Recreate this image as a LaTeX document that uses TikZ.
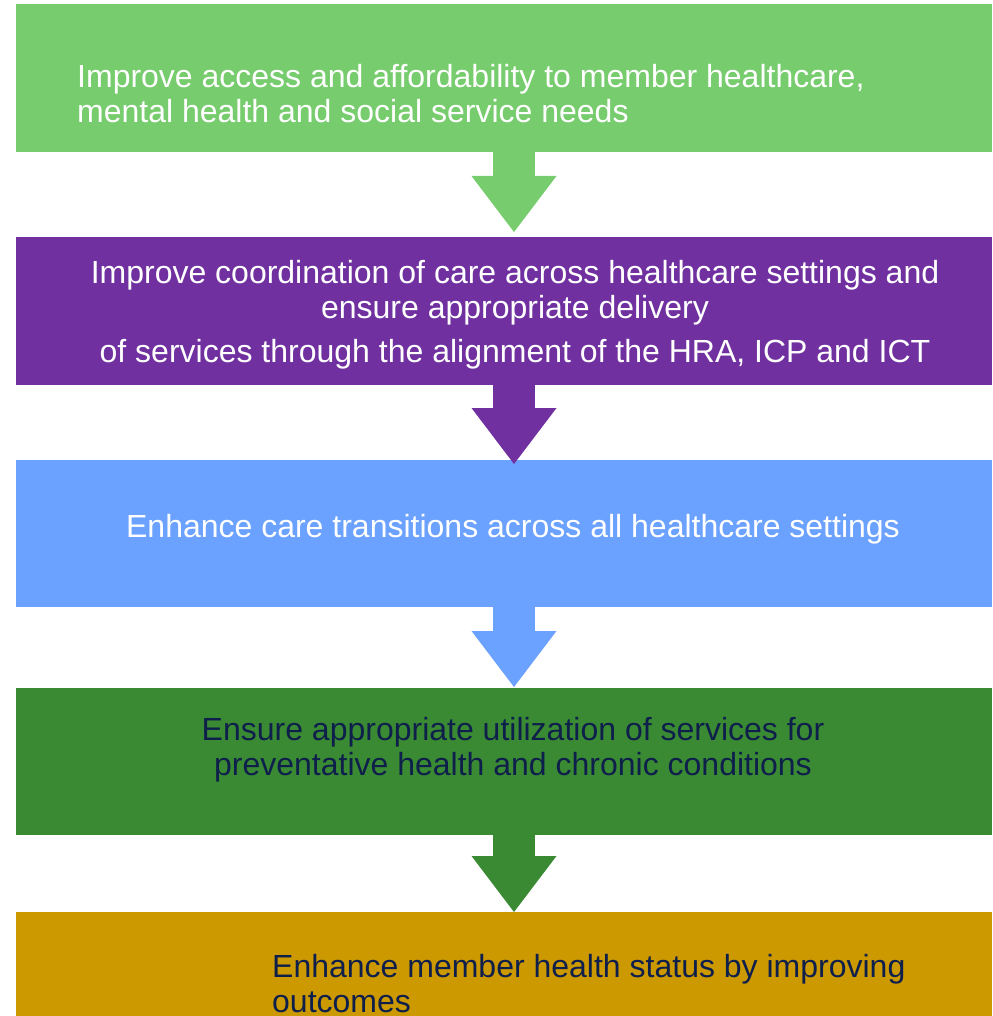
\documentclass[tikz,border=0pt]{standalone}
\usepackage{fontspec}
\setmainfont{Liberation Sans}
\usetikzlibrary{arrows.meta, positioning}

\definecolor{accessgreen}{HTML}{77CC6E}
\definecolor{coordpurple}{HTML}{7030A0}
\definecolor{transblue}{HTML}{6BA1FF}
\definecolor{utilgreen}{HTML}{3A8A33}
\definecolor{statusgold}{HTML}{CC9900}
\definecolor{navytext}{HTML}{0F1F4B}

\begin{document}
\begin{tikzpicture}[x=1pt, y=-1pt,
      goalbox/.style={anchor=north west, minimum width=976pt, minimum height=148pt, inner sep=0pt, outer sep=0pt},
      goaltext/.style={font=\fontsize{32}{35}\selectfont, inner sep=0pt},
      flow/.style={line width=42pt, -{Triangle[length=56pt, width=85pt, line width=0pt]}}
    ]
      \useasboundingbox (0,0) rectangle (992,1016);

      % Goal boxes, top to bottom
      \node[goalbox, fill=accessgreen] (goal1) at (16,4) {};
      \node[goalbox, fill=coordpurple] (goal2) at (16,237) {};
      \node[goalbox, fill=transblue, minimum height=147pt] (goal3) at (16,460) {};
      \node[goalbox, fill=utilgreen, minimum height=147pt] (goal4) at (16,688) {};
      \node[goalbox, fill=statusgold] (goal5) at (16,912) {};

      % Texts of the boxes (base = baseline of the last line)
      \node[goaltext, white, anchor=base west, align=left] (txt1) at (77,123)
        {Improve access and affordability to member healthcare,\\mental health and social service needs};
      \node[goaltext, white, anchor=base, align=center] (txt2) at (515,362)
        {Improve coordination of care across healthcare settings and\\ensure appropriate delivery\\[9pt]of services through the alignment of the HRA, ICP and ICT};
      \node[goaltext, white, anchor=base] (txt3) at (513,537)
        {Enhance care transitions across all healthcare settings};
      \node[goaltext, navytext, anchor=base, align=center] (txt4) at (513,775)
        {Ensure appropriate utilization of services for\\preventative health and chronic conditions};
      \node[goaltext, navytext, anchor=base west, align=left] (txt5) at (272,1012)
        {Enhance member health status by improving\\outcomes};

      % Block arrows between the boxes
      \draw[flow, accessgreen] ([xshift=10pt]goal1.south) -- ([xshift=10pt, yshift=5pt]goal2.north);
      \draw[flow, coordpurple] ([xshift=10pt]goal2.south) -- ([xshift=10pt, yshift=-4pt]goal3.north);
      \draw[flow, transblue] ([xshift=10pt]goal3.south) -- ([xshift=10pt, yshift=1pt]goal4.north);
      \draw[flow, utilgreen] ([xshift=10pt]goal4.south) -- ([xshift=10pt]goal5.north);
    \end{tikzpicture}
\end{document}
